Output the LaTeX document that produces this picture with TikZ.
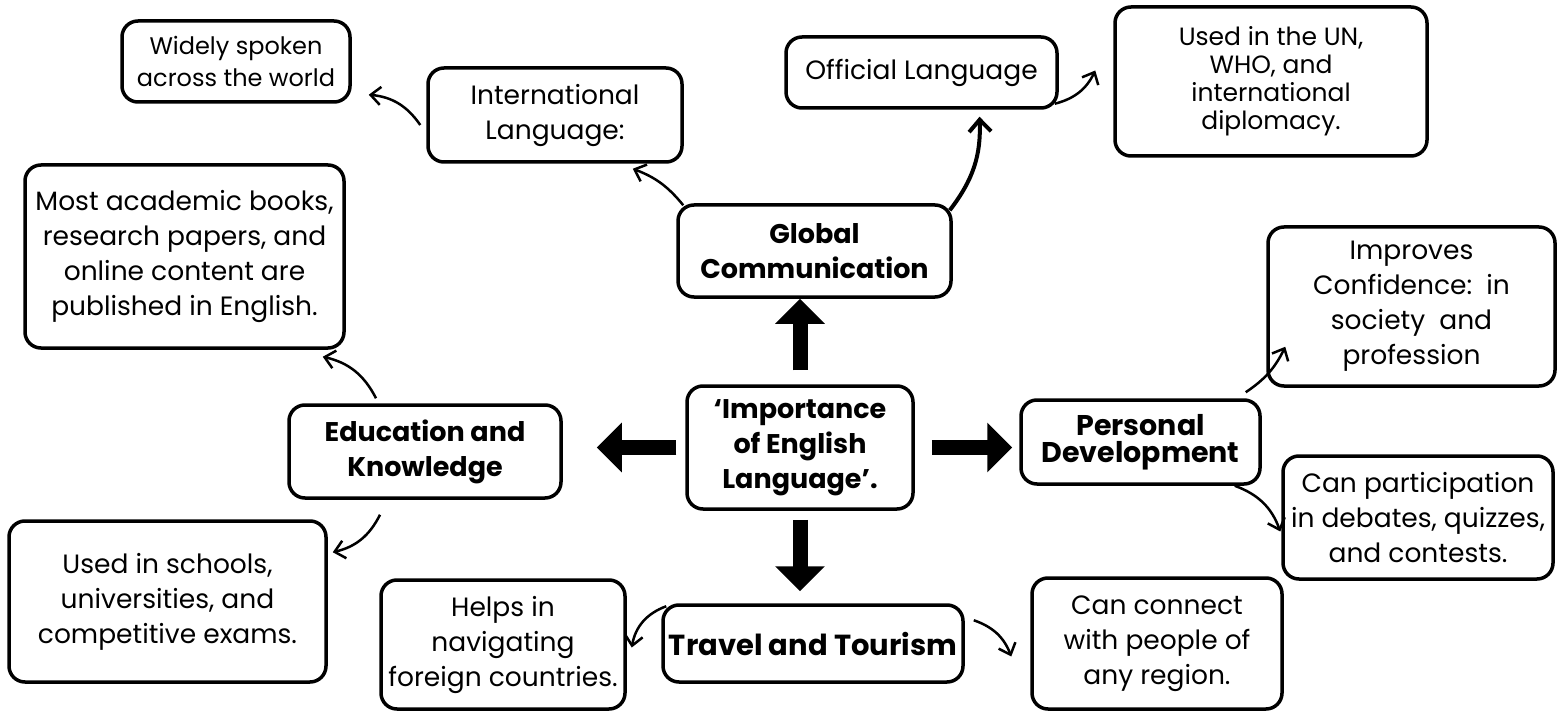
\documentclass[tikz,border=0pt]{standalone}
\usepackage{fontspec}
\setmainfont{Poppins}
\usetikzlibrary{arrows.meta}
\tikzstyle{topic} = [rectangle, rounded corners=16pt, line width=3.5pt, draw=black, fill=white, align=center, inner sep=0pt, font=\bfseries\fontsize{27}{35}\selectfont]
\tikzstyle{detail} = [rectangle, rounded corners=16pt, line width=3.5pt, draw=black, fill=white, align=center, inner sep=0pt, font=\fontsize{26.5}{35}\selectfont]
\tikzstyle{arrow} = [line width=2.5pt, -{Straight Barb[length=10pt,width=18pt]}]
\tikzstyle{bigarrow} = [line width=15pt, -{Triangle[length=25pt,width=48pt]}]

\begin{document}
\begin{tikzpicture}[x=1pt, y=1pt]
    \useasboundingbox (0,0) rectangle (1557,-711);

    % Nodes
    \node (center) [topic, minimum width=226pt, minimum height=123pt] at (800,-447.5) {‘Importance\\of English\\Language’.};
    \node (global) [topic, minimum width=273pt, minimum height=92pt] at (814.5,-251) {Global\\Communication};
    \node (edu) [topic, minimum width=272pt, minimum height=93pt] at (425,-451.5) {Education and\\Knowledge};
    \node (personal) [topic, minimum width=239pt, minimum height=84pt, font=\bfseries\fontsize{28.5}{27}\selectfont] at (1140.5,-442) {Personal\\Development};
    \node (travel) [topic, minimum width=300pt, minimum height=77pt, font=\bfseries\fontsize{29}{35}\selectfont] at (813,-643.5) {Travel and Tourism};

    \node (intl) [detail, minimum width=254pt, minimum height=94pt] at (555,-115) {International\\Language:};
    \node (widely) [detail, minimum width=228pt, minimum height=81pt, font=\fontsize{24}{32}\selectfont] at (236,-61.5) {Widely spoken\\across the world};
    \node (official) [detail, minimum width=271pt, minimum height=71pt] at (921.5,-72.5) {Official Language};
    \node (un) [detail, minimum width=312pt, minimum height=149pt, font=\fontsize{25}{28}\selectfont] at (1271,-81.5) {Used in the UN,\\WHO, and\\international\\diplomacy.};
    \node (academic) [detail, minimum width=319pt, minimum height=183pt] at (184.5,-256.5) {Most academic books,\\research papers, and\\online content are\\published in English.};
    \node (schools) [detail, minimum width=317pt, minimum height=161pt] at (167.5,-601.5) {Used in schools,\\universities, and\\competitive exams.};
    \node (improves) [detail, minimum width=287pt, minimum height=159pt] at (1411.5,-306.5) {Improves\\Confidence:\ \ in\\society\ \ and\\profession};
    \node (particip) [detail, minimum width=270pt, minimum height=123pt] at (1418,-517.5) {Can participation\\in debates, quizzes,\\and contests.};
    \node (helps) [detail, minimum width=244pt, minimum height=129pt] at (503,-644.5) {Helps in\\navigating\\foreign countries.};
    \node (connect) [detail, minimum width=250pt, minimum height=131pt] at (1157,-643.5) {Can connect\\with people of\\any region.};

    % Block arrows
    \draw [bigarrow, shorten <=14pt] (center.north) -- (center.north |- global.south);
    \draw [bigarrow, shorten <=9pt, shorten >=34pt] (center.west) -- (center.west -| edu.east);
    \draw [bigarrow, shorten <=17pt, shorten >=7pt] (center.east) -- (center.east -| personal.west);
    \draw [bigarrow, shorten <=9pt, shorten >=12pt] (center.south) -- (center.south |- travel.north);

    % Curved arrows
    \draw [arrow] ([xshift=-6pt,yshift=-10pt]intl.west) to[bend right=25] ([xshift=17pt,yshift=9pt]widely.south east);
    \draw [arrow] ([xshift=7pt,yshift=-2pt]global.north west) to[bend right=15] ([xshift=-51pt,yshift=-5pt]intl.south east);
    \draw [arrow, line width=4pt, -{Straight Barb[length=12pt,width=22pt]}] ([xshift=-3pt,yshift=-7pt]global.north east) to[bend right=20] ([xshift=58pt,yshift=-7pt]official.south);
    \draw [arrow] ([xshift=-4pt,yshift=6pt]official.south east) to[bend right=25] ([xshift=-18pt,yshift=11pt]un.west);
    \draw [arrow] ([xshift=-49pt,yshift=5pt]edu.north) to[bend right=25] ([xshift=-23pt,yshift=-7pt]academic.south east);
    \draw [arrow] ([xshift=-45pt,yshift=-15pt]edu.south) to[bend left=25] ([xshift=5pt,yshift=-33pt]schools.north east);
    \draw [arrow] ([xshift=-16pt,yshift=6pt]personal.north east) to[bend right=15] ([xshift=19pt,yshift=41pt]improves.south west);
    \draw [arrow] ([xshift=-27pt]personal.south east) to[bend left=25] ([xshift=-1pt,yshift=-14pt]particip.west);
    \draw [arrow] ([xshift=5pt,yshift=-3pt]travel.north west) to[bend right=30] ([xshift=5pt,yshift=-3pt]helps.east);
    \draw [arrow] ([xshift=9pt,yshift=-17pt]travel.north east) to[bend left=25] ([xshift=-19pt,yshift=-13pt]connect.west);

\end{tikzpicture}
\end{document}
